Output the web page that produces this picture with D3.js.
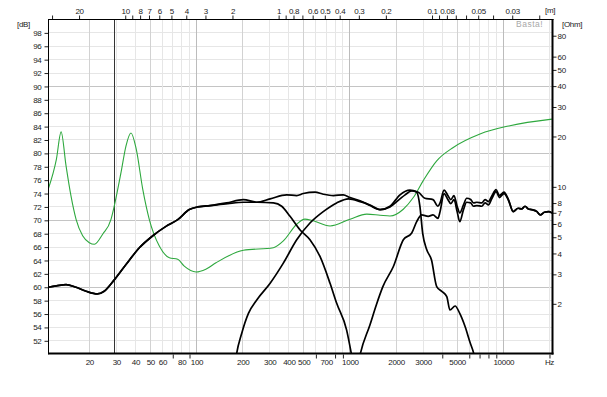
<!DOCTYPE html>
<html>
<head>
<meta charset="utf-8">
<script src="https://cdn.jsdelivr.net/npm/d3@7"></script>
<style>
  body { margin: 0; background: #fff; }
  svg { display: block; }
  text { font-family: "Liberation Sans", Arial, sans-serif; font-size: 8px; fill: #222; letter-spacing: -0.3px; }
</style>
</head>
<body>
<svg id="chart"></svg>
<script>
const width = 607;
const height = 397;
const plot = { left: 48.5, right: 552, top: 19.5, bottom: 354.2 };

// axis ticks
const hzLabels = [20, 30, 40, 50, 60, 80, 100, 200, 300, 400, 500, 700, 1000, 2000, 3000, 5000, 10000];
const hzMinor = [70, 90, 600, 800, 900, 4000, 6000, 7000, 8000, 9000, 20000];
const hzGrid = [20, 30, 40, 50, 60, 70, 80, 90, 100, 200, 300, 400, 500, 600, 700, 800, 900,
                1000, 2000, 3000, 4000, 5000, 6000, 7000, 8000, 9000, 10000, 20000];
const hzGridMajor = [100, 1000, 10000];
const hzGridMid = [20, 50, 200, 500, 2000, 5000];
const mLabels = [20, 10, 8, 7, 6, 5, 4, 3, 2, 1, 0.8, 0.6, 0.5, 0.4, 0.3, 0.2, 0.1, 0.08, 0.05, 0.03];
const mMinor = [30, 9, 0.9, 0.7, 0.09, 0.07, 0.06, 0.04, 0.02];
const dbTicks = [52, 54, 56, 58, 60, 62, 64, 66, 68, 70, 72, 74, 76, 78, 80, 82, 84, 86, 88, 90, 92, 94, 96, 98];
const dbMajor = [60, 70, 80, 90];
const ohmTicks = [2, 3, 4, 5, 6, 7, 8, 10, 20, 30, 40, 50, 60, 80];
const markerHz = 29.2;

// [Hz, dB]
const woofer = [[10.8,60.0],[12.2,60.2],[14.1,60.4],[16.4,60.0],[19.1,59.4],[22.6,59.0],[25.0,59.4],
  [29.1,61.1],[34.7,63.4],[42.4,65.9],[51.9,67.7],[63.2,69.1],[75.4,70.1],[89.8,71.6],[101.8,72.0],
  [122.5,72.2],[160,72.5],[202,72.7],[250,72.7],[317,72.6],[359,72.1],[407,70.6],[472,68.6],[549,67.1],
  [638,64.6],[742,60.6],[820,57.6],[952,53.6],[1025,49.9],[1080,47]];

const mid = [[175,47],[182,49.9],[197,53.1],[218,56.1],[247,58.1],[302,60.6],[368,63.6],[450,67.1],
  [549,69.6],[670,71.3],[820,72.6],[977,73.2],[1167,72.8],[1352,72.3],[1572,71.6],[1825,72.1],[2120,73.8],
  [2460,74.5],[2725,74.2],[2860,72.1],[2980,68.1],[3170,65.6],[3400,64.1],[3680,60.1],[3970,59.4],
  [4280,58.6],[4490,56.6],[4850,57.2],[5200,56.1],[5640,54.1],[6080,51.7],[6400,50.2],[6700,48]];

const tweeter = [[1100,47],[1167,50],[1352,54.4],[1488,57.4],[1640,60.1],[1920,63.1],[2230,67.1],
  [2530,68.1],[2725,69.8],[2935,70.8],[3240,70.6],[3480,70.8],[3750,70.3],[3870,71.3],[4110,74.0],
  [4330,73.2],[4550,72.5],[4770,73.1],[5000,71.3],[5200,69.8],[5500,71.6],[5770,72.7],[6130,72.6],
  [6390,72.1],[6720,72.2],[7240,72.1],[7610,72.6],[8000,72.3],[8400,73.2],[8970,74.3],[9430,73.4],
  [10100,74.0],[10800,73.0],[11600,71.3],[12500,71.8],[13170,71.7],[13850,72.1],[14560,71.7],
  [15300,71.6],[16580,71.3],[17420,70.8],[18510,71.2],[19760,71.3],[20790,71.1]];

const total = [[10.8,60.0],[12.2,60.2],[14.1,60.4],[16.4,60.0],[19.1,59.4],[22.6,59.0],[25.0,59.4],
  [29.1,61.1],[34.7,63.4],[42.4,65.9],[51.9,67.7],[63.2,69.1],[75.4,70.1],[89.8,71.6],[101.8,72.0],
  [122.5,72.2],[157,72.6],[202,73.1],[247,72.7],[302,73.2],[387,73.8],[450,73.7],[497,74.0],[592,74.2],
  [670,73.9],[781,73.7],[904,73.8],[1002,73.4],[1225,72.7],[1352,72.2],[1572,71.6],[1825,72.0],
  [2120,73.2],[2290,73.8],[2530,74.4],[2790,74.2],[3080,73.3],[3480,73.1],[3750,72.1],[3870,72.6],
  [4110,74.5],[4330,73.8],[4550,73.1],[4770,73.7],[5000,72.1],[5200,71.1],[5500,72.3],[5770,73.3],
  [6130,73.1],[6390,72.6],[6720,72.7],[7240,72.6],[7610,73.1],[8000,72.8],[8400,73.6],[8970,74.6],
  [9430,73.7],[10100,74.2],[10800,73.1],[11600,71.3],[12500,71.8],[13170,71.7],[13850,72.1],
  [14560,71.7],[15300,71.6],[16580,71.3],[17420,70.8],[18510,71.2],[19760,71.3],[20790,71.1]];

// [Hz, Ohm]
const impedance = [[10.8,9.7],[12.2,14.6],[13.1,21.3],[14.1,13.4],[15.2,8.8],[16.4,6.4],[18.1,5.1],
  [20.0,4.64],[21.6,4.54],[24.5,5.23],[27.7,6.4],[29.1,7.7],[32.2,12.2],[34.7,17.6],[37.4,21.0],
  [40.4,16.9],[44.6,9.7],[49.2,6.4],[57.2,4.43],[66.5,3.77],[75.4,3.69],[83.2,3.36],[99.3,3.10],
  [115,3.22],[134,3.52],[202,4.18],[317,4.33],[368,4.75],[450,5.98],[509,6.41],[563,6.32],[742,5.84],
  [1002,6.41],[1288,6.87],[1572,6.77],[1825,6.70],[2228,7.35],[2590,8.63],[3007,10.9],[3680,14.3],
  [4720,17.2],[7047,20.7],[11040,23.2],[20750,25.4]];

const x = d3.scaleLog().domain([10.84, 20770]).range([plot.left, plot.right]);
const xm = d3.scaleLog().domain([343 / 10.84, 343 / 20770]).range([plot.left, plot.right]); // wavelength
const yDb = d3.scaleLinear().domain([50, 100]).range([plot.bottom, plot.top]);
const yOhm = d3.scaleLog().domain([1, 100]).range([plot.bottom, plot.top]);

const svg = d3.select("#chart")
    .attr("width", width)
    .attr("height", height)
    .attr("viewBox", [0, 0, width, height]);

svg.append("defs").append("clipPath").attr("id", "clip")
  .append("rect")
    .attr("x", plot.left).attr("y", plot.top)
    .attr("width", plot.right - plot.left).attr("height", 353.5 - plot.top);

// grid
const grid = svg.append("g").attr("shape-rendering", "crispEdges");
grid.selectAll("line.h")
  .data(dbTicks)
  .join("line")
    .attr("class", "h")
    .attr("x1", plot.left).attr("x2", plot.right)
    .attr("y1", d => yDb(d)).attr("y2", d => yDb(d))
    .attr("stroke", d => dbMajor.includes(d) ? "#c4c4c4" : "#e6e6e6");
grid.selectAll("line.v")
  .data(hzGrid)
  .join("line")
    .attr("class", "v")
    .attr("x1", d => x(d)).attr("x2", d => x(d))
    .attr("y1", plot.top).attr("y2", 353.5)
    .attr("stroke", d => hzGridMajor.includes(d) ? "#bcbcbc" : hzGridMid.includes(d) ? "#d2d2d2" : "#e6e6e6");

svg.append("line")
    .attr("x1", x(markerHz)).attr("x2", x(markerHz))
    .attr("y1", plot.top).attr("y2", 353.5)
    .attr("stroke", "#333")
    .attr("shape-rendering", "crispEdges");

svg.append("text")
    .attr("x", 516).attr("y", 27)
    .style("font-size", "8.5px")
    .style("letter-spacing", "0.5px")
    .style("fill", "#a8a8a8")
    .text("Basta!");

// curves
const curves = svg.append("g").attr("clip-path", "url(#clip)");

const ohmLine = d3.line()
    .curve(d3.curveMonotoneX)
    .x(d => x(d[0]))
    .y(d => yOhm(d[1]));

const dbLine = d3.line()
    .curve(d3.curveMonotoneX)
    .x(d => x(d[0]))
    .y(d => yDb(d[1]));

curves.append("path")
    .attr("d", ohmLine(impedance))
    .attr("fill", "none")
    .attr("stroke", "#2ea83e")
    .attr("stroke-width", 1.1);

curves.selectAll("path.resp")
  .data([woofer, mid, tweeter, total])
  .join("path")
    .attr("class", "resp")
    .attr("d", d => dbLine(d))
    .attr("fill", "none")
    .attr("stroke", "#000")
    .attr("stroke-width", 1.7)
    .attr("stroke-linejoin", "round");

// axes
const fmtHz = d3.format("d");

const leftAxis = svg.append("g")
    .attr("transform", `translate(${plot.left},0)`)
    .attr("color", "#222")
    .call(d3.axisLeft(yDb).tickValues(dbTicks).tickSize(4).tickPadding(3));
leftAxis.select(".domain").remove();

const rightAxis = svg.append("g")
    .attr("transform", `translate(552.5,0)`)
    .attr("color", "#222")
    .call(d3.axisRight(yOhm).tickValues(ohmTicks).tickFormat(fmtHz).tickSize(4).tickPadding(1));
rightAxis.select(".domain").remove();

const bottomAxis = svg.append("g")
    .attr("transform", `translate(0,353.5)`)
    .attr("color", "#222")
    .call(d3.axisBottom(x).tickValues(hzLabels).tickFormat(fmtHz).tickSize(0).tickPadding(6));
bottomAxis.select(".domain").remove();

const bottomMinor = svg.append("g")
    .attr("transform", `translate(0,354.5)`)
    .attr("color", "#222")
    .call(d3.axisBottom(x).tickValues(hzMinor).tickFormat("").tickSize(4));
bottomMinor.select(".domain").remove();

const topAxis = svg.append("g")
    .attr("transform", `translate(0,${plot.top})`)
    .attr("color", "#222")
    .call(d3.axisTop(xm).tickValues(mLabels).tickFormat(d => String(d)).tickSize(4).tickPadding(2));
topAxis.select(".domain").remove();

const topMinor = svg.append("g")
    .attr("transform", `translate(0,${plot.top})`)
    .attr("color", "#222")
    .call(d3.axisTop(xm).tickValues(mMinor).tickFormat("").tickSize(4));
topMinor.select(".domain").remove();

// frame
svg.append("line").attr("x1", plot.left).attr("x2", plot.left).attr("y1", 19).attr("y2", 354.5)
    .attr("stroke", "#000").attr("stroke-width", 1);
svg.append("line").attr("x1", plot.left).attr("x2", 553.5).attr("y1", 19.5).attr("y2", 19.5)
    .attr("stroke", "#000").attr("stroke-width", 1);
svg.append("line").attr("x1", plot.left).attr("x2", 553.5).attr("y1", 353.5).attr("y2", 353.5)
    .attr("stroke", "#000").attr("stroke-width", 2);
svg.append("line").attr("x1", 552.5).attr("x2", 552.5).attr("y1", 19).attr("y2", 354.5)
    .attr("stroke", "#000").attr("stroke-width", 2);

// unit labels
svg.append("text").attr("x", 30).attr("y", 27).attr("text-anchor", "end").text("[dB]");
svg.append("text").attr("x", 562).attr("y", 27).text("[Ohm]");
svg.append("text").attr("x", 545).attr("y", 13).text("[m]");
svg.append("text").attr("x", x(20000)).attr("y", 365).attr("text-anchor", "middle").text("Hz");
</script>
</body>
</html>
